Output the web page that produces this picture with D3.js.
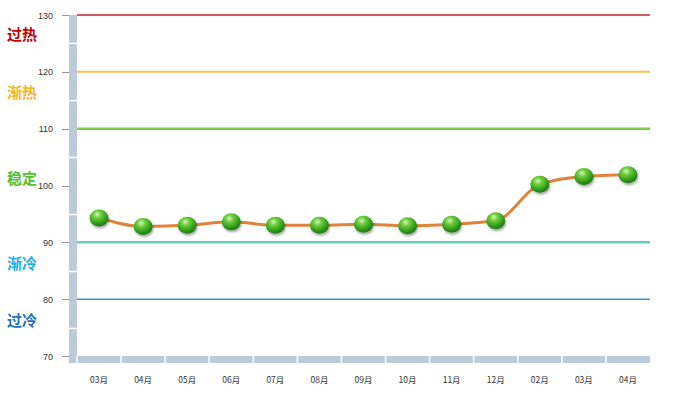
<!DOCTYPE html>
<html><head><meta charset="utf-8">
<script src="https://cdn.jsdelivr.net/npm/d3@7"></script>
<style>body{margin:0;background:#fff}svg{display:block}</style>
</head><body><svg id="c" width="683" height="399"></svg>
<script>
const months = ["03月","04月","05月","06月","07月","08月","09月","10月","11月","12月","02月","03月","04月"];
const values = [94.3, 92.8, 93.0, 93.6, 93.0, 93.0, 93.2, 92.9, 93.2, 93.8, 100.2, 101.6, 101.9];
const yTicks = [70, 80, 90, 100, 110, 120, 130];
const zoneLines = [130, 120, 110, 90, 80];
const zoneLineColors = ["#b8282e", "#f7c34a", "#7ccc48", "#5fd0c3", "#3f8fd0"];
const zoneLineWidths = [1.5, 2, 2.5, 2.5, 1.5];
const zoneNames = ["过热", "渐热", "稳定", "渐冷", "过冷"];
const zoneCenters = [126.6, 116.4, 101.4, 86.4, 76.4];
const zoneColors = ["#c00000", "#f5b81c", "#55c132", "#1ab1e6", "#1f73b8"];

const svg = d3.select("#c");
const x0 = 77, x1 = 650, yTop = 15, yBot = 356;
const y = d3.scaleLinear().domain([70,130]).range([yBot, yTop]);
const x = d3.scaleBand().domain(d3.range(months.length)).range([x0, x1]).padding(0);

const defs = svg.append("defs");
const g = defs.append("radialGradient").attr("id","ball").attr("cx","40%").attr("cy","30%").attr("r","70%");
g.append("stop").attr("offset","0%").attr("stop-color","#d8f5c0");
g.append("stop").attr("offset","30%").attr("stop-color","#6fcf3c");
g.append("stop").attr("offset","75%").attr("stop-color","#2f9a1a");
g.append("stop").attr("offset","100%").attr("stop-color","#1f7a10");
const f = defs.append("filter").attr("id","sh").attr("x","-50%").attr("y","-50%").attr("width","200%").attr("height","200%");
f.append("feGaussianBlur").attr("in","SourceAlpha").attr("stdDeviation",1.2);
f.append("feOffset").attr("dx",1).attr("dy",2).attr("result","o");
f.append("feComponentTransfer").append("feFuncA").attr("type","linear").attr("slope",0.35);
const fm = f.append("feMerge"); fm.append("feMergeNode"); fm.append("feMergeNode").attr("in","SourceGraphic");

// left band segments (split at every 5 units)
const halfTicks = d3.range(70, 131, 5);
svg.append("rect").attr("x",69).attr("y",yTop).attr("width",8).attr("height",yBot+7-yTop).attr("fill","#bccbdc");
svg.selectAll(".hg").data(halfTicks.filter(v=>v%10===5)).join("line")
  .attr("x1",69).attr("x2",77).attr("y1",d=>Math.round(y(d))+0.5).attr("y2",d=>Math.round(y(d))+0.5)
  .attr("stroke","#fff").attr("stroke-width",1.5);
// bottom band
svg.append("rect").attr("x",x0).attr("y",yBot).attr("width",x1-x0).attr("height",7).attr("fill","#bccbdc");
svg.selectAll(".vg").data(d3.range(0, months.length)).join("line")
  .attr("x1",d=>x(d)).attr("x2",d=>x(d)).attr("y1",yBot).attr("y2",yBot+7)
  .attr("stroke","#fff").attr("stroke-width",1.5);

// y axis ticks and labels
svg.selectAll(".yt").data(yTicks).join("line")
  .attr("x1",62).attr("x2",69).attr("y1",d=>Math.round(y(d))+0.5).attr("y2",d=>Math.round(y(d))+0.5)
  .attr("stroke","#999");
svg.selectAll(".yl").data(yTicks).join("text")
  .attr("x",53).attr("y",d=>y(d)+3.5).attr("text-anchor","end")
  .attr("font-family","Arial, Liberation Sans, sans-serif").attr("font-size",9).attr("fill","#333")
  .text(d=>d);

// zone lines
svg.selectAll(".zl").data(zoneLines).join("line")
  .attr("x1",x0).attr("x2",x1).attr("y1",d=>y(d)).attr("y2",d=>y(d))
  .attr("stroke",(d,i)=>zoneLineColors[i]).attr("stroke-width",(d,i)=>zoneLineWidths[i]);

// zone names
svg.selectAll(".zn").data(zoneNames).join("text")
  .attr("x",7).attr("y",(d,i)=>y(zoneCenters[i])+6)
  .attr("font-family","Noto Sans CJK SC, sans-serif").attr("font-weight","bold").attr("font-size",15)
  .attr("fill",(d,i)=>zoneColors[i]).text(d=>d);

// x labels
svg.selectAll(".xl").data(months).join("text")
  .attr("x",(d,i)=>x(i)+x.bandwidth()/2).attr("y",383).attr("text-anchor","middle")
  .attr("font-family","Noto Sans CJK SC, sans-serif").attr("font-size",8.5).attr("fill","#333")
  .text(d=>d);

// line
const line = d3.line().x((d,i)=>x(i)+x.bandwidth()/2).y(d=>y(d)).curve(d3.curveMonotoneX);
svg.append("path").datum(values).attr("d",line).attr("fill","none")
  .attr("stroke","#e0823c").attr("stroke-width",3).attr("stroke-linejoin","round");

// markers
svg.selectAll(".pt").data(values).join("ellipse")
  .attr("cx",(d,i)=>x(i)+x.bandwidth()/2).attr("cy",d=>y(d))
  .attr("rx",9.5).attr("ry",8.5).attr("fill","url(#ball)").attr("filter","url(#sh)");
</script></body></html>
